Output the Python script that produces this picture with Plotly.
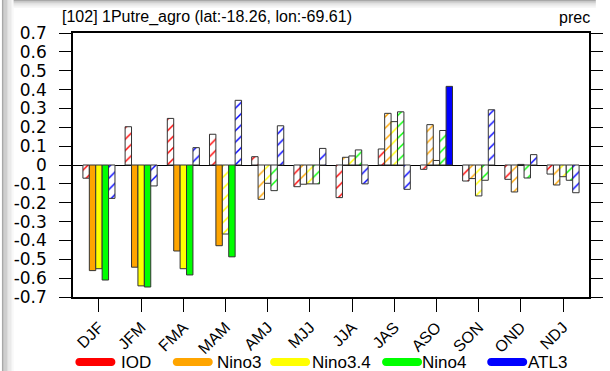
import plotly.graph_objects as go

seasons = ["DJF", "JFM", "FMA", "MAM", "AMJ", "MJJ", "JJA", "JAS", "ASO", "SON", "OND", "NDJ"]
series_names = ["IOD", "Nino3", "Nino3.4", "Nino4", "ATL3"]
series_colors = ["#ff0000", "#ffa500", "#ffff00", "#00ff00", "#0000ff"]

iod    = [-0.07, 0.203, 0.247, 0.163, 0.044, -0.115, -0.173, 0.085, -0.023, -0.085, -0.076, -0.048]
nino3  = [-0.56, -0.542, -0.456, -0.428, -0.182, -0.102, 0.041, 0.274, 0.214, -0.072, -0.143, -0.106]
nino34 = [-0.55, -0.641, -0.55, -0.366, -0.097, -0.10, 0.048, 0.23, 0.024, -0.164, 0.003, -0.062]
nino4  = [-0.61, -0.647, -0.583, -0.487, -0.136, -0.10, 0.08, 0.282, 0.183, -0.081, -0.069, -0.081]
atl3   = [-0.177, -0.111, 0.092, 0.343, 0.208, 0.088, -0.10, -0.129, 0.417, 0.293, 0.055, -0.147]

# significant (solid) bars; others hatched
sig_iod    = [0] * 12
sig_nino3  = [1, 1, 1, 1, 0, 0, 0, 0, 0, 0, 0, 0]
sig_nino34 = [1, 1, 1, 0, 0, 0, 0, 0, 0, 0, 0, 0]
sig_nino4  = [1, 1, 1, 1, 0, 0, 0, 0, 0, 0, 0, 0]
sig_atl3   = [0, 0, 0, 0, 0, 0, 0, 0, 1, 0, 0, 0]

yticks = [-0.7, -0.6, -0.5, -0.4, -0.3, -0.2, -0.1, 0, 0.1, 0.2, 0.3, 0.4, 0.5, 0.6, 0.7]
ytick_text = ["-0.7", "-0.6", "-0.5", "-0.4", "-0.3", "-0.2", "-0.1", "0", "0.1", "0.2", "0.3", "0.4", "0.5", "0.6", "0.7"]

title_left = "[102] 1Putre_agro (lat:-18.26, lon:-69.61)"
title_right = "prec"

FONT = "Liberation Sans, Arial, Helvetica, sans-serif"
YFONT = "DejaVu Sans, Liberation Sans, sans-serif"

W, H = 610, 371
ML, MR, MT, MB = 73, 7, 33, 74
PW, PH = W - ML - MR, H - MT - MB


def px2x(px):
    return (px - ML) / PW


def py2y(py):
    return (H - MB - py) / PH


fig = go.Figure()
all_vals = [iod, nino3, nino34, nino4, atl3]
all_sig = [sig_iod, sig_nino3, sig_nino34, sig_nino4, sig_atl3]
for name, col, vals, sig in zip(series_names, series_colors, all_vals, all_sig):
    fig.add_trace(go.Bar(
        x=seasons, y=vals, name=name, showlegend=False,
        marker=dict(
            color=col,
            line=dict(color="#333333", width=1),
            pattern=dict(
                shape=["" if s else "/" for s in sig],
                fgcolor=col, bgcolor="white", size=8, solidity=0.18,
                fillmode="replace",
            ),
        ),
    ))

shapes = []
# drop shadow on top and left edges
grays = ["#a8a8a8", "#b6b6b6", "#c3c3c3", "#cfcfcf", "#d9d9d9", "#e2e2e2", "#eaeaea", "#f1f1f1", "#f7f7f7"]
for i, g in enumerate(grays):
    shapes.append(dict(type="rect", xref="paper", yref="paper",
                       x0=px2x(i * 12 / len(grays)), x1=px2x((i + 1) * 12 / len(grays)),
                       y0=py2y(H), y1=py2y(0), fillcolor=g, line=dict(width=0), layer="below"))
for i, g in enumerate(grays):
    shapes.append(dict(type="rect", xref="paper", yref="paper",
                       x0=px2x(12), x1=px2x(W),
                       y0=py2y(i * 8 / len(grays)), y1=py2y((i + 1) * 8 / len(grays)),
                       fillcolor=g, line=dict(width=0), layer="below"))

# legend
legend_line_cx = [96, 196, 296, 411, 519]
legend_text_x = [123, 222, 320, 433, 541]
leg_y = 362
annotations = []
half, r = 16, 4
k = r * 1.333
stadium = (f"M {-half},{-r} L {half},{-r} C {half + k},{-r} {half + k},{r} {half},{r} "
           f"L {-half},{r} C {-half - k},{r} {-half - k},{-r} {-half},{-r} Z")
for name, col, cx, tx in zip(series_names, series_colors, legend_line_cx, legend_text_x):
    shapes.append(dict(type="path", xref="paper", yref="paper",
                       xsizemode="pixel", ysizemode="pixel",
                       xanchor=px2x(cx), yanchor=py2y(leg_y),
                       path=stadium, fillcolor=col, line=dict(width=0)))
    annotations.append(dict(xref="paper", yref="paper", x=px2x(tx), y=py2y(leg_y),
                            text=name, showarrow=False, xanchor="left", yanchor="middle",
                            xshift=-2, borderpad=0,
                            font=dict(family=FONT, size=17, color="black")))

annotations.append(dict(xref="paper", yref="paper", x=px2x(62), y=py2y(17),
                        text=title_left, showarrow=False, xanchor="left", yanchor="middle",
                        xshift=-2,
                        font=dict(family=FONT, size=16, color="black")))
annotations.append(dict(xref="paper", yref="paper", x=px2x(604), y=py2y(17),
                        text=title_right, showarrow=False, xanchor="right", yanchor="middle",
                        xshift=2,
                        font=dict(family=FONT, size=16, color="black")))

fig.update_layout(
    width=W, height=H,
    margin=dict(l=ML, r=MR, t=MT, b=MB, pad=0),
    paper_bgcolor="white", plot_bgcolor="white",
    barmode="group", bargap=0.24, bargroupgap=0,
    shapes=shapes, annotations=annotations,
    font=dict(family=FONT, color="black"),
)
fig.update_xaxes(
    type="category", range=[-0.615, 11.615],
    showline=True, linecolor="black", linewidth=1.5, mirror=True,
    ticks="outside", ticklen=13, tickwidth=1.2, tickcolor="black",
    tickangle=-45, tickfont=dict(family=FONT, size=16, color="black"),
    showgrid=False,
)
fig.update_yaxes(
    range=[-0.7, 0.7], tickvals=yticks, ticktext=ytick_text,
    showline=True, linecolor="black", linewidth=1.5, mirror="ticks",
    ticks="outside", ticklen=12, tickwidth=1.2, tickcolor="black",
    tickfont=dict(family=YFONT, size=17, color="black"),
    ticklabelstandoff=9,
    showgrid=False, zeroline=True, zerolinecolor="black", zerolinewidth=1,
)

fig.write_html(
    "out.html",
    config={"displayModeBar": False},
    post_script="document.body.style.margin='0';document.body.style.overflow='hidden';",
)
